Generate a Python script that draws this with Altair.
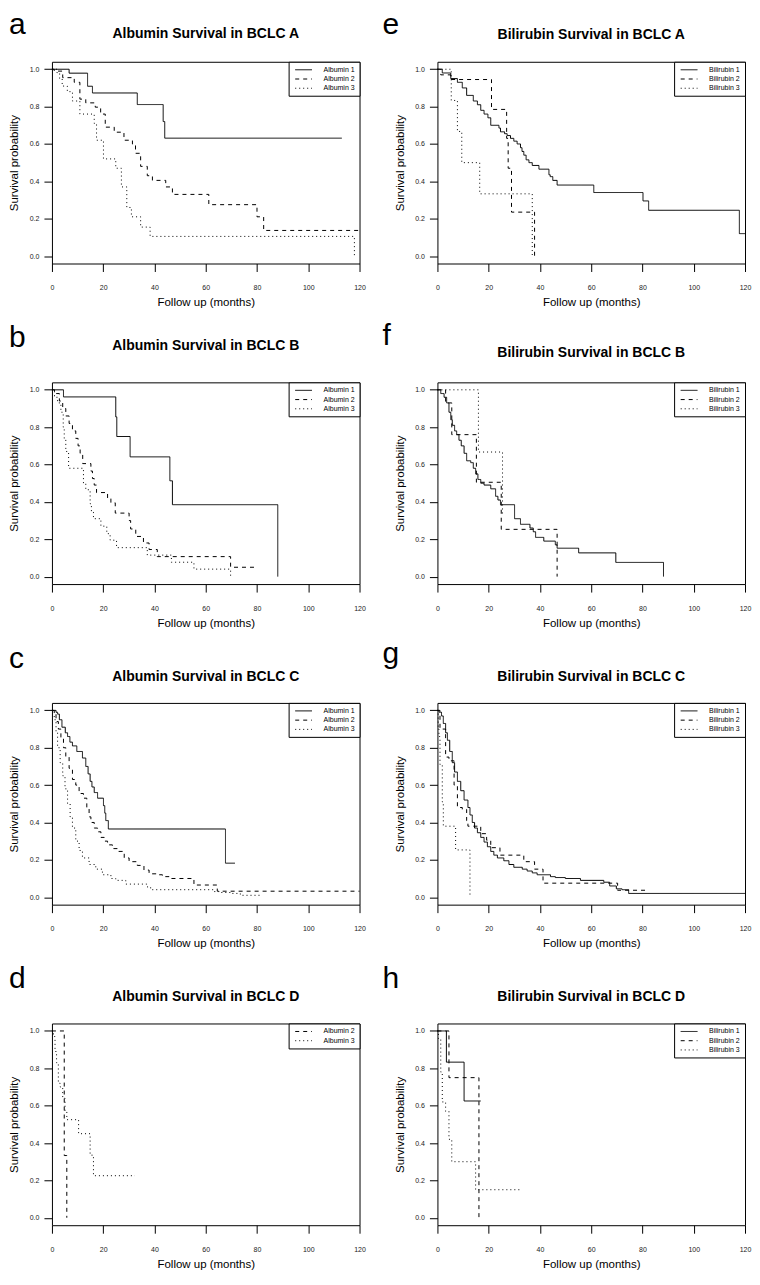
import altair as alt
import pandas as pd

FONT = "Liberation Sans"

# ---------------- data ----------------
# Panel a: Albumin, BCLC A
A_ALB1_T = [0, 6.7, 13.9, 15.8, 33.3, 43.4, 44.0, 113.1]
A_ALB1_S = [1, 0.979, 0.909, 0.873, 0.811, 0.72, 0.631, 0.631]
A_ALB2_T = [0, 0.9, 4.2, 8.7, 10.9, 13.2, 16.9, 19.0, 20.8, 24.3, 28.1, 31.4, 32.6, 34.6, 37.2, 39.2, 44.4, 47.0, 61.2, 80.0, 82.6, 120]
A_ALB2_S = [1, 0.99, 0.955, 0.93, 0.84, 0.82, 0.797, 0.76, 0.69, 0.663, 0.62, 0.60, 0.55, 0.48, 0.43, 0.405, 0.37, 0.33, 0.275, 0.21, 0.137, 0.137]
A_ALB3_T = [0, 2, 3, 4, 6, 8, 10.9, 16.5, 17.4, 20.1, 24.9, 27.1, 29.2, 31.0, 34.6, 38.3, 118]
A_ALB3_S = [1, 0.98, 0.95, 0.91, 0.88, 0.83, 0.76, 0.71, 0.62, 0.52, 0.47, 0.37, 0.26, 0.21, 0.155, 0.105, 0.0]

# Panel e: Bilirubin, BCLC A
E_BIL1_T = [0, 1.9, 5.2, 7.8, 9.7, 11.4, 14, 15.6, 16.9, 18.2, 19.7, 20.8, 24, 24.6, 26.2, 27.2, 28.5, 29.8, 31.1, 32.4, 33, 33.7, 34.6, 35.7, 37, 39.6, 43.5, 44, 45, 46.7, 61, 80.2, 82.4, 117.8, 120]
E_BIL1_S = [1, 0.98, 0.95, 0.93, 0.90, 0.86, 0.83, 0.81, 0.78, 0.76, 0.74, 0.70, 0.685, 0.665, 0.655, 0.645, 0.63, 0.615, 0.60, 0.58, 0.56, 0.54, 0.515, 0.50, 0.485, 0.465, 0.435, 0.425, 0.405, 0.38, 0.34, 0.295, 0.245, 0.12, 0.12]
E_BIL2_T = [0, 1.3, 5.2, 21.1, 27.0, 27.6, 28.9, 37.9]
E_BIL2_S = [1, 0.97, 0.945, 0.785, 0.63, 0.47, 0.235, 0.0]
E_BIL3_T = [0, 5.4, 7.8, 9.5, 16.5, 37.0]
E_BIL3_S = [1, 0.833, 0.667, 0.5, 0.333, 0.0]

# Panel b: Albumin, BCLC B
B_ALB1_T = [0, 4.5, 24.9, 25.3, 30.5, 46, 47, 88.1]
B_ALB1_S = [1, 0.962, 0.855, 0.75, 0.641, 0.513, 0.385, 0.0]
B_ALB2_T = [0, 1, 2.9, 4.2, 5.4, 6.7, 8, 9.3, 10.2, 11, 12, 15.2, 15.8, 16.5, 17.4, 21.7, 23, 24.7, 30.1, 30.7, 32.7, 35.7, 37.9, 41.1, 69.7, 79.4]
B_ALB2_S = [1, 0.98, 0.94, 0.90, 0.86, 0.82, 0.78, 0.74, 0.70, 0.66, 0.605, 0.565, 0.525, 0.49, 0.45, 0.42, 0.395, 0.34, 0.30, 0.255, 0.215, 0.18, 0.145, 0.107, 0.05, 0.05]
B_ALB3_T = [0, 1, 2.2, 3.5, 4.4, 4.8, 5.4, 6.5, 12.3, 13.2, 14.9, 15.4, 16.2, 19.1, 21.4, 22.7, 25.2, 37.2, 46.6, 55.4, 69.7]
B_ALB3_S = [1, 0.96, 0.93, 0.88, 0.80, 0.74, 0.67, 0.58, 0.50, 0.465, 0.39, 0.345, 0.31, 0.27, 0.23, 0.195, 0.155, 0.115, 0.077, 0.04, 0.0]

# Panel f: Bilirubin, BCLC B
F_BIL1_T = [0, 1.3, 2.6, 3.6, 4.5, 5.2, 5.8, 6.7, 7.5, 8.4, 9.3, 10.4, 11.4, 13, 14, 14.9, 15.8, 16.9, 18.2, 20.8, 22.7, 23.6, 24.6, 30.1, 32.4, 36.1, 37.4, 38.3, 41.5, 46, 46.7, 55.1, 69.6, 88.2]
F_BIL1_S = [1, 0.98, 0.96, 0.93, 0.88, 0.84, 0.81, 0.78, 0.76, 0.73, 0.70, 0.66, 0.62, 0.61, 0.58, 0.55, 0.52, 0.50, 0.49, 0.47, 0.43, 0.41, 0.385, 0.31, 0.28, 0.26, 0.24, 0.21, 0.19, 0.17, 0.152, 0.127, 0.076, 0.0]
F_BIL2_T = [0, 3.2, 5.6, 15.2, 24.9, 46.7]
F_BIL2_S = [1, 0.93, 0.76, 0.505, 0.253, 0.0]
F_BIL3_T = [0, 16.0, 25.4, 25.6]
F_BIL3_S = [1, 0.667, 0.333, 0.333]

# Panel c: Albumin, BCLC C
C_ALB1_T = [0, 1.6, 2.2, 2.9, 3.9, 5.2, 6.1, 7, 8, 9.7, 11.9, 13.2, 14.1, 14.9, 15.6, 16.5, 17.8, 20.1, 20.6, 21, 22, 67.7, 71.4]
C_ALB1_S = [1, 0.99, 0.98, 0.95, 0.91, 0.88, 0.86, 0.83, 0.81, 0.78, 0.745, 0.70, 0.66, 0.62, 0.59, 0.56, 0.53, 0.49, 0.45, 0.41, 0.365, 0.182, 0.182]
C_ALB2_T = [0, 0.9, 1.6, 2.5, 3.5, 4.5, 5.4, 6.7, 8, 9.3, 10.6, 12.3, 13.6, 14.5, 15.2, 16.5, 17.8, 19.1, 20.4, 21.7, 23.6, 25.5, 28.2, 30.1, 33.3, 35.9, 37.9, 41.4, 43.1, 45.7, 55.4, 64.5, 120]
C_ALB2_S = [1, 0.98, 0.94, 0.90, 0.85, 0.80, 0.75, 0.69, 0.63, 0.60, 0.555, 0.53, 0.48, 0.43, 0.40, 0.37, 0.35, 0.32, 0.30, 0.28, 0.26, 0.245, 0.21, 0.19, 0.17, 0.145, 0.125, 0.12, 0.11, 0.10, 0.065, 0.032, 0.032]
C_ALB3_T = [0, 0.9, 1.6, 2.2, 3.2, 4.2, 5.1, 6.1, 7.1, 8, 9.3, 10.6, 11.9, 14.5, 17.1, 19.7, 23, 24.9, 28.8, 37, 38.5, 63.2, 65.8, 69.7, 73.5, 82]
C_ALB3_S = [1, 0.95, 0.88, 0.80, 0.72, 0.65, 0.58, 0.50, 0.43, 0.37, 0.30, 0.25, 0.21, 0.175, 0.15, 0.12, 0.10, 0.09, 0.07, 0.055, 0.04, 0.03, 0.025, 0.02, 0.01, 0.01]

# Panel g: Bilirubin, BCLC C
G_BIL1_T = [0, 0.6, 1.6, 2.3, 3.2, 3.9, 4.8, 5.8, 6.7, 7.8, 9.1, 10.4, 11.9, 12.7, 13.6, 14.5, 15.6, 16.9, 18.2, 19.5, 20.8, 22, 23.4, 25.9, 27.9, 29.8, 33.1, 35, 37, 38.9, 44.1, 46, 49.9, 55.8, 64.9, 67.2, 69.8, 72, 74.6, 120]
G_BIL1_S = [1, 0.99, 0.97, 0.93, 0.88, 0.84, 0.78, 0.72, 0.67, 0.62, 0.57, 0.52, 0.48, 0.44, 0.40, 0.37, 0.345, 0.32, 0.295, 0.27, 0.245, 0.225, 0.21, 0.195, 0.175, 0.16, 0.15, 0.14, 0.13, 0.12, 0.11, 0.105, 0.10, 0.09, 0.08, 0.06, 0.045, 0.04, 0.02, 0.02]
G_BIL2_T = [0, 1, 3.2, 4.5, 6.5, 7.8, 9.7, 11.4, 11.9, 16.9, 19.2, 20.8, 24.4, 33.7, 37.9, 41.2, 70.3, 81]
G_BIL2_S = [1, 0.9, 0.75, 0.73, 0.60, 0.48, 0.47, 0.41, 0.38, 0.34, 0.305, 0.265, 0.225, 0.19, 0.15, 0.075, 0.037, 0.037]
G_BIL3_T = [0, 0.3, 0.6, 1, 1.9, 2.3, 7.1, 12.7]
G_BIL3_S = [1, 0.9, 0.86, 0.71, 0.51, 0.38, 0.253, 0.0]

# Panel d: Albumin, BCLC D
D_ALB2_T = [0, 4.8, 5.8]
D_ALB2_S = [1, 0.333, 0.0]
D_ALB3_T = [0, 0.6, 1.2, 1.8, 2.5, 3.2, 4.2, 5.1, 5.8, 10.4, 14.9, 16.2, 32.4]
D_ALB3_S = [1, 0.97, 0.89, 0.83, 0.72, 0.70, 0.64, 0.57, 0.525, 0.45, 0.335, 0.225, 0.225]

# Panel h: Bilirubin, BCLC D
H_BIL1_T = [0, 3.5, 10.4, 16.9]
H_BIL1_S = [1, 0.833, 0.625, 0.625]
H_BIL2_T = [0, 4.5, 16.2]
H_BIL2_S = [1, 0.75, 0.0]
H_BIL3_T = [0, 0.4, 1.3, 1.9, 3.2, 4.5, 5.6, 14.9, 32.2]
H_BIL3_S = [1, 0.96, 0.78, 0.62, 0.57, 0.42, 0.30, 0.15, 0.15]

X_TICKS = [0, 20, 40, 60, 80, 100, 120]
Y_TICKS = [0.0, 0.2, 0.4, 0.6, 0.8, 1.0]

# panel spec: letter, title, curves, title baseline offset, letter baseline offset, letter x
PANELS = [
    ("a", "Albumin Survival in BCLC A",
     [("Albumin 1", A_ALB1_T, A_ALB1_S), ("Albumin 2", A_ALB2_T, A_ALB2_S), ("Albumin 3", A_ALB3_T, A_ALB3_S)], -24, -28, -43),
    ("e", "Bilirubin Survival in BCLC A",
     [("Bilirubin 1", E_BIL1_T, E_BIL1_S), ("Bilirubin 2", E_BIL2_T, E_BIL2_S), ("Bilirubin 3", E_BIL3_T, E_BIL3_S)], -23, -28, -55),
    ("b", "Albumin Survival in BCLC B",
     [("Albumin 1", B_ALB1_T, B_ALB1_S), ("Albumin 2", B_ALB2_T, B_ALB2_S), ("Albumin 3", B_ALB3_T, B_ALB3_S)], -32, -35, -43),
    ("f", "Bilirubin Survival in BCLC B",
     [("Bilirubin 1", F_BIL1_T, F_BIL1_S), ("Bilirubin 2", F_BIL2_T, F_BIL2_S), ("Bilirubin 3", F_BIL3_T, F_BIL3_S)], -25, -37, -55),
    ("c", "Albumin Survival in BCLC C",
     [("Albumin 1", C_ALB1_T, C_ALB1_S), ("Albumin 2", C_ALB2_T, C_ALB2_S), ("Albumin 3", C_ALB3_T, C_ALB3_S)], -22, -35, -43),
    ("g", "Bilirubin Survival in BCLC C",
     [("Bilirubin 1", G_BIL1_T, G_BIL1_S), ("Bilirubin 2", G_BIL2_T, G_BIL2_S), ("Bilirubin 3", G_BIL3_T, G_BIL3_S)], -22, -40, -55),
    ("d", "Albumin Survival in BCLC D",
     [("Albumin 2", D_ALB2_T, D_ALB2_S), ("Albumin 3", D_ALB3_T, D_ALB3_S)], -23, -36, -43),
    ("h", "Bilirubin Survival in BCLC D",
     [("Bilirubin 1", H_BIL1_T, H_BIL1_S), ("Bilirubin 2", H_BIL2_T, H_BIL2_S), ("Bilirubin 3", H_BIL3_T, H_BIL3_S)], -23, -36, -55),
]

DASH = {"1": [1, 0], "2": [4, 4], "3": [1, 3]}

W, H = 308, 202


def make_panel(letter, title, curves, title_y, letter_y, letter_x):
    rows = []
    for name, ts, ss in curves:
        for t, s in zip(ts, ss):
            rows.append({"group": name, "t": t, "s": s})
    df = pd.DataFrame(rows)
    names = [c[0] for c in curves]
    dashes = [DASH[n[-1]] for n in names]

    x_axis = alt.Axis(values=X_TICKS, format="d", labelFontSize=7, labelColor="#222",
                      labelPadding=12, labelFlush=False, labelOverlap=False,
                      tickSize=8, tickColor="black", domain=False, grid=False,
                      title="Follow up (months)", titleFontSize=11.5, titleFontWeight="normal",
                      titleColor="black", titleY=39, titleBaseline="middle")
    y_axis = alt.Axis(values=Y_TICKS, format=".1f", labelFontSize=7, labelColor="#222",
                      labelPadding=5, labelOverlap=False,
                      tickSize=8, tickColor="black", domain=False, grid=False,
                      title="Survival probability", titleFontSize=11.5, titleFontWeight="normal",
                      titleColor="black", titleX=-37, titleY=H / 2, titleBaseline="middle",
                      titleAlign="center")
    legend = alt.Legend(orient="top-right", offset=0, padding=4.5, strokeColor="black",
                        fillColor="white", symbolType="M-2.8,0H2.8", symbolSize=36,
                        symbolStrokeWidth=1, symbolStrokeColor="black", symbolOffset=7,
                        labelOffset=16.5, labelFontSize=7, labelFont=FONT, labelColor="black",
                        rowPadding=1.25)

    lines = alt.Chart(df).mark_line(interpolate="step-after", color="black", strokeWidth=1).encode(
        x=alt.X("t:Q", scale=alt.Scale(domain=[0, 120], nice=False, zero=False), axis=x_axis),
        y=alt.Y("s:Q", scale=alt.Scale(domain=[-0.04, 1.04], nice=False, zero=False), axis=y_axis),
        strokeDash=alt.StrokeDash("group:N", title=None,
                                  scale=alt.Scale(domain=names, range=dashes), legend=legend),
    )
    ttl = alt.Chart(pd.DataFrame({"txt": [title]})).mark_text(
        font=FONT, fontSize=14, fontWeight="bold", align="center", baseline="alphabetic", color="black"
    ).encode(text="txt:N", x=alt.value(W / 2), y=alt.value(title_y))
    let = alt.Chart(pd.DataFrame({"txt": [letter]})).mark_text(
        font=FONT, fontSize=30, align="left", baseline="alphabetic", color="black"
    ).encode(text="txt:N", x=alt.value(letter_x), y=alt.value(letter_y))
    return alt.layer(lines, ttl, let).properties(width=W, height=H)


panels = [make_panel(*p) for p in PANELS]

chart = (
    alt.concat(*panels, columns=2, spacing={"row": 119, "column": 78}, bounds="flush")
    .resolve_scale(strokeDash="independent")
    .resolve_legend(strokeDash="independent")
    .properties(padding=0)
    .configure(font=FONT)
    .configure_view(stroke="black", strokeWidth=1)
    .configure_axis(labelFont=FONT, titleFont=FONT)
)

chart.save("out.html", embed_options={"renderer": "svg", "actions": False})
